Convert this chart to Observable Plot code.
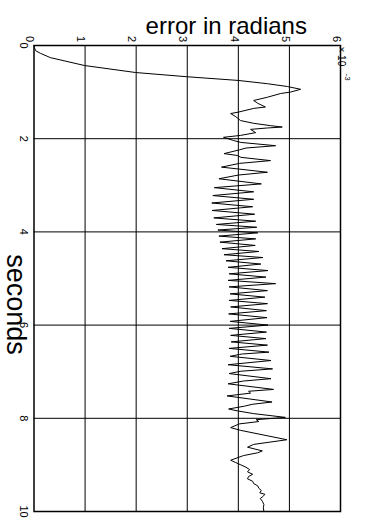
<!DOCTYPE html>
<html>
<head>
<meta charset="utf-8">
<script src="https://cdn.jsdelivr.net/npm/d3@7"></script>
<script src="https://cdn.jsdelivr.net/npm/@observablehq/plot@0.6"></script>
<style>
  body { margin: 0; background: #fff; }
  svg { display: block; }
</style>
</head>
<body>
<div id="chart"></div>
<script>
// Tracking error over time (error in units of 10^-3 radians)
const seconds = [
  0, 0.05, 0.11, 0.17, 0.26, 0.43, 0.58, 0.67, 0.75, 0.82, 0.88, 0.94,
  1.00, 1.03, 1.11, 1.18, 1.24, 1.32, 1.35, 1.43, 1.46, 1.52, 1.57, 1.61,
  1.67, 1.72, 1.75, 1.77, 1.80, 1.87, 1.93, 1.97,
  2.04, 2.08, 2.15, 2.20, 2.24, 2.32, 2.36, 2.40, 2.47, 2.53, 2.61, 2.65,
  2.72, 2.78, 2.86, 2.97,
  3.05, 3.14, 3.22, 3.30, 3.38, 3.46, 3.54, 3.62, 3.70, 3.77, 3.84, 3.90, 3.96,
  4.02, 4.09, 4.15, 4.22, 4.29, 4.36, 4.42, 4.49, 4.55, 4.62, 4.69, 4.76,
  4.83, 4.90, 4.97,
  5.04, 5.11, 5.18, 5.26, 5.33, 5.40, 5.47, 5.54, 5.61, 5.69, 5.76, 5.84, 5.92,
  6.00, 6.07, 6.15, 6.22, 6.29, 6.36, 6.43, 6.50, 6.58, 6.62, 6.63, 6.67,
  6.76, 6.85, 6.94, 6.99,
  7.04, 7.15, 7.20, 7.26, 7.38, 7.42, 7.46, 7.52, 7.65, 7.70, 7.74, 7.80,
  7.84, 7.90, 7.98,
  8.03, 8.07, 8.12, 8.20, 8.26, 8.46, 8.56, 8.62, 8.70, 8.74, 8.80, 8.90, 8.95,
  9.00, 9.05, 9.10, 9.15, 9.20, 9.25, 9.30, 9.35, 9.40, 9.45, 9.50, 9.55,
  9.60, 9.63, 9.68, 9.72, 9.78, 9.85, 9.92, 10.0
];
const errorE3 = [
  0, 0.01, 0.03, 0.13, 0.32, 0.99, 1.99, 2.99, 4.00, 4.57, 4.96, 5.22,
  5.02, 4.83, 4.57, 4.30, 4.38, 4.53, 4.30, 4.00, 3.85, 3.94, 4.00, 4.04,
  4.30, 4.63, 4.86, 4.57, 4.24, 4.34, 4.04, 3.71,
  3.91, 4.05, 4.73, 4.15, 4.02, 3.72, 3.98, 4.05, 4.63, 4.02, 3.67, 4.00,
  4.57, 4.00, 3.62, 4.45,
  3.53, 4.30, 3.50, 4.30, 3.48, 4.28, 3.49, 4.32, 3.52, 4.34, 3.57, 4.36, 3.60,
  4.38, 3.62, 4.34, 3.64, 4.33, 3.68, 4.40, 3.72, 4.48, 3.76, 4.44, 3.80,
  4.58, 3.82, 4.54,
  3.80, 4.73, 3.82, 4.57, 3.84, 4.52, 3.82, 4.57, 3.85, 4.55, 3.81, 4.56, 3.84,
  4.58, 3.82, 4.55, 3.85, 4.54, 3.86, 4.57, 3.82, 4.60, 4.08, 4.02, 3.84,
  4.64, 3.80, 4.67, 4.05,
  3.82, 4.64, 4.10, 3.80, 4.69, 4.20, 4.24, 3.78, 4.66, 4.27, 4.12, 3.81,
  3.98, 4.30, 4.92,
  4.35, 4.40, 4.02, 3.85, 4.05, 4.95, 4.30, 4.18, 4.47, 4.38, 4.10, 3.85, 3.95,
  4.05, 4.15, 4.22, 4.18, 4.28, 4.20, 4.18, 4.28, 4.30, 4.38, 4.40, 4.45,
  4.42, 4.52, 4.48, 4.43, 4.47, 4.50, 4.49, 4.50
];

const errorTicks = [0, 1, 2, 3, 4, 5, 6];
const secondTicks = [0, 2, 4, 6, 8, 10];
const errorGrid = [1, 2, 3, 4, 5];
const secondGrid = [2, 4, 6, 8];

const data = seconds.map((t, i) => ({t, e: errorE3[i]}));

const chart = Plot.plot({
  width: 365,
  height: 526,
  marginLeft: 33.5,
  marginRight: 25,
  marginTop: 45,
  marginBottom: 15,
  x: {domain: [0, 6], axis: null},
  y: {domain: [0, 10], reverse: true, axis: null},
  style: {fontFamily: "'Liberation Sans', Arial, Helvetica, sans-serif", background: "#fff", color: "#000"},
  marks: [
    Plot.ruleX(errorGrid, {stroke: "#000", strokeWidth: 1}),
    Plot.ruleY(secondGrid, {stroke: "#000", strokeWidth: 1}),
    Plot.line(data, {x: "e", y: "t", stroke: "#000", strokeWidth: 1}),
    Plot.frame({stroke: "#000", strokeWidth: 1.5}),
    // tick labels, turned a quarter clockwise
    Plot.text(errorTicks, {x: d => d, frameAnchor: "top", dy: -6.5, rotate: 90, textAnchor: "middle", fontSize: 11, text: d => String(d), fill: "#000"}),
    Plot.text(secondTicks, {y: d => d, frameAnchor: "left", dx: -10, rotate: 90, textAnchor: "middle", fontSize: 11, text: d => String(d), fill: "#000"}),
    // axis exponent
    Plot.text(["× 10"], {frameAnchor: "top-right", dx: 5, dy: 1, rotate: 90, textAnchor: "start", fontSize: 10, fill: "#000"}),
    Plot.text(["-3"], {frameAnchor: "top-right", dx: 10, dy: 28, rotate: 90, textAnchor: "start", fontSize: 8, fill: "#000"}),
    // axis titles
    Plot.text(["error in radians"], {frameAnchor: "top", dx: 39, dy: -12, lineAnchor: "bottom", textAnchor: "middle", fontSize: 24, fill: "#000"}),
    Plot.text(["seconds"], {frameAnchor: "left", dx: -18.5, dy: 26, rotate: 90, textAnchor: "middle", fontSize: 27, fill: "#000"})
  ]
});

document.getElementById("chart").appendChild(chart);
</script>
</body>
</html>
